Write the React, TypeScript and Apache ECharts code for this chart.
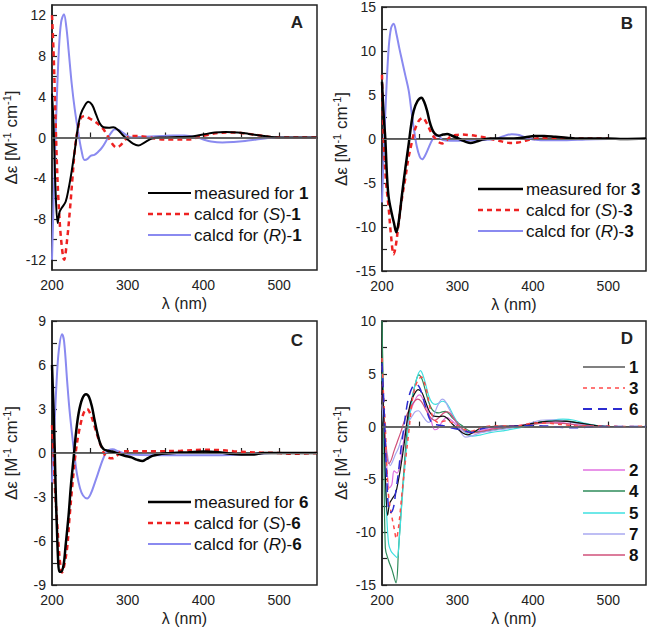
import React, { useEffect, useRef } from 'react';
import * as echarts from 'echarts';

const FONT = '"Liberation Sans", Arial, sans-serif';

// ---------- Panel A (compound 1) ----------
const A_M_X = [200, 202, 204.5, 207.5, 210, 213, 218, 222, 226, 230, 234, 238, 243, 248, 253, 258, 263, 268, 275, 281, 287, 294, 300, 307, 314, 322, 332, 345, 365, 385, 400, 415, 430, 445, 460, 475, 490, 510, 550];
const A_M_Y = [4.3, 1.5, -4.8, -8.4, -7.3, -6.9, -6.3, -5.0, -3.3, -1.3, 0.9, 2.3, 3.1, 3.5, 3.2, 2.3, 1.4, 1.0, 0.95, 1.0, 0.75, 0.2, -0.2, -0.6, -0.78, -0.5, -0.1, 0, 0.05, 0.1, 0.3, 0.48, 0.53, 0.5, 0.35, 0.2, 0.05, 0, 0];
const A_S_X = [200, 202, 204, 206, 208.5, 212, 216, 220, 224, 227, 230, 234, 238, 243, 250, 257, 263, 268, 273, 277, 281, 285, 290, 296, 302, 310, 320, 330, 340, 360, 380, 392, 405, 420, 435, 450, 465, 480, 495, 550];
const A_S_Y = [12, 8.5, 3.7, -1.5, -6.1, -10, -12, -10, -6.8, -4, -1.3, 0.8, 1.9, 2.1, 1.85, 1.55, 1.2, 0.8, 0.2, -0.3, -0.75, -0.98, -0.8, -0.3, 0.1, 0.15, 0.1, 0, -0.15, -0.2, -0.2, 0, 0.25, 0.45, 0.5, 0.45, 0.3, 0.15, 0, 0];
const A_R_X = [200, 203, 206, 209, 212, 215.8, 219, 222, 226, 230, 234.8, 239, 243, 247, 251, 256, 261, 266, 272.6, 278, 283, 288, 294, 300, 305, 315, 330, 345, 360, 375, 390, 400, 410, 425, 440, 455, 470, 485, 495, 550];
const A_R_Y = [-12, -4, 3, 8.5, 11.3, 12.1, 10.8, 8.5, 5.3, 2.8, 0.45, -1.3, -2.2, -2.1, -1.8, -1.7, -1.4, -1.0, -0.2, 0.45, 0.82, 0.75, 0.45, 0.15, 0, 0.05, 0.1, 0.15, 0.2, 0.2, 0.05, -0.2, -0.4, -0.5, -0.45, -0.35, -0.2, -0.05, 0, 0];

// ---------- Panel B (compound 3) ----------
const B_M_X = [200, 202, 204.4, 206.5, 208.8, 213, 216, 219, 222, 226.6, 231, 235.4, 239, 242, 247, 252.3, 256, 259.8, 263, 266.5, 270, 275, 281, 286.4, 292, 297.5, 305, 312, 317.4, 325, 333, 345, 360, 375, 390, 402.5, 415, 430, 445, 460, 480, 500, 520, 550];
const B_M_Y = [6.5, 3.0, 0, -4, -6.6, -8.5, -9.6, -10.6, -9.5, -6.25, -3.3, -0.57, 1.8, 3.2, 4.3, 4.7, 4.2, 3.2, 2.0, 1.1, 0.6, 0.38, 0.5, 0.57, 0.4, 0.2, -0.1, -0.35, -0.45, -0.3, -0.07, 0.05, 0.05, 0.05, 0.2, 0.35, 0.35, 0.25, 0.15, 0.05, 0.05, 0.05, 0, 0.05];
const B_S_X = [200, 202, 205, 208.8, 212, 215.4, 218, 222, 226, 231, 235, 240, 243, 246.5, 250, 254.5, 258, 262, 266, 271, 275, 279.8, 285, 290.8, 298, 306, 315, 325, 335, 345, 355, 365, 372, 380, 390, 400, 420, 440, 460, 480, 500];
const B_S_Y = [7.3, 0.6, -4.5, -7.8, -11, -13.1, -12.3, -9.6, -7.0, -4.4, -2.2, -0.2, 0.9, 1.7, 2.2, 2.4, 2.0, 1.3, 0.6, 0, -0.35, -0.5, -0.2, 0.26, 0.45, 0.5, 0.45, 0.35, 0.2, 0, -0.2, -0.4, -0.45, -0.4, -0.2, 0, 0.15, 0.1, 0.05, 0.05, 0.05];
const B_R_X = [200, 203, 206, 209, 212, 215.4, 219, 223, 226.6, 231, 235.4, 239, 242, 246, 250, 253.2, 257, 262, 266, 271, 276, 280, 290.8, 305, 320, 335, 350, 360, 372, 382, 392, 400, 420, 445, 470, 500];
const B_R_Y = [-7.2, 0, 6, 10.5, 12.6, 13.1, 12, 10.3, 8.9, 7.2, 5.5, 3.2, 1.3, -0.8, -2.0, -2.3, -1.9, -0.95, -0.2, 0.4, 0.3, -0.1, -0.2, -0.2, -0.15, -0.1, 0, 0.3, 0.55, 0.45, 0.1, -0.05, -0.15, -0.15, -0.05, 0];

// ---------- Panel C (compound 6) ----------
const C_M_X = [200, 202, 203.5, 205, 206.6, 208, 209.7, 212, 215.4, 218, 222, 225, 228.6, 232, 235.3, 240, 245, 249, 253, 256, 259.7, 264, 268.4, 274, 279.6, 288, 297, 305, 312, 319.4, 325, 332.6, 345, 360, 380, 400, 420, 435, 450, 465, 480, 500, 550];
const C_M_Y = [6.0, 3.0, 0.4, -2.8, -5.3, -7.2, -8.1, -8.1, -7.6, -6.3, -4.2, -2.2, -0.3, 1.5, 2.75, 3.7, 4.0, 3.8, 3.1, 2.3, 1.4, 0.6, 0.25, 0.15, 0.1, -0.05, -0.2, -0.3, -0.45, -0.55, -0.4, -0.2, -0.05, 0, 0.05, 0.1, 0.05, -0.05, -0.1, -0.1, 0, 0, 0];
const C_S_X = [200, 202, 204, 206.6, 209, 211, 213.3, 216, 220, 223, 226.5, 231, 235, 239.8, 243, 246.4, 250, 255.2, 258, 261.8, 266, 270.7, 275, 279.6, 285, 292.8, 310, 340, 370, 400, 420, 440, 460, 480, 500, 520, 550];
const C_S_Y = [1.9, 0, -2.5, -4.6, -6.5, -7.6, -8.15, -7.7, -6.45, -4.5, -2.4, -0.1, 1.3, 2.4, 2.85, 3.0, 2.75, 2.0, 1.5, 0.9, 0.3, -0.2, -0.33, -0.36, -0.2, 0.12, 0.12, 0.12, 0.15, 0.22, 0.2, 0.12, 0.05, 0.02, 0, -0.05, 0];
const C_R_X = [200, 203, 206, 209, 213.3, 216, 220, 223, 226.5, 230, 233, 237, 241, 246.4, 251, 257.4, 262, 266.3, 271, 275, 280, 288.3, 298, 310, 340, 380, 420, 450, 470, 490, 550];
const C_R_Y = [-2.0, 1.5, 4.8, 7.0, 8.1, 7.6, 4.9, 3.0, 1.27, -0.3, -1.45, -2.4, -2.9, -3.1, -2.8, -1.9, -1.2, -0.55, 0, 0.2, 0.25, 0.1, -0.05, -0.12, -0.15, -0.15, -0.15, -0.1, -0.05, 0, 0];

// ---------- Panel D (other compounds) ----------
const D2_X = [200, 203, 206, 210, 213, 216, 220, 224, 229, 234, 240, 246, 250, 255, 260, 265, 270, 274, 280, 286, 292, 298, 305, 312, 320, 335, 350, 370, 390, 410, 425, 440, 460, 480, 500, 550];
const D2_Y = [3.0, 0, -3.5, -5.8, -5.5, -4.2, -4.4, -3.5, -1.2, 0.6, 1.9, 2.8, 3.0, 2.5, 1.6, 0.6, -0.3, -0.2, 0.5, 0.85, 0.6, 0.2, -0.3, -0.6, -0.5, -0.3, -0.15, 0, 0.2, 0.4, 0.45, 0.35, 0.15, 0, -0.05, 0];
const D4_X = [200, 202, 204.4, 208.8, 213, 218.6, 222, 226.6, 230, 233.2, 236, 240, 244, 248.7, 253, 257.6, 262, 266.5, 271, 275.3, 280, 284, 289, 293, 300, 306, 313, 320, 330, 345, 360, 380, 400, 420, 435, 450, 465, 480, 500, 550];
const D4_Y = [10, 2, -11.5, -12.7, -13.5, -14.8, -11.5, -6.7, -3.2, -0.4, 1.2, 2.75, 4.0, 4.9, 4.5, 3.4, 2.3, 1.6, 1.35, 1.3, 1.4, 1.45, 1.2, 0.85, 0.4, 0.1, -0.3, -0.5, -0.5, -0.35, -0.2, 0, 0.3, 0.55, 0.6, 0.5, 0.3, 0.1, 0, 0];
const D5_X = [200, 203, 206, 208.8, 212, 215.4, 220, 223, 226.6, 231, 235.4, 240, 245, 251, 256, 262, 266, 271, 275, 279.8, 284, 288.6, 295, 301.9, 310, 319.7, 330, 345, 360, 380, 400, 420, 440, 455, 470, 485, 500, 550];
const D5_Y = [5.0, -2, -8, -11.1, -11.8, -12.1, -12.4, -10.5, -7.0, -3.2, 0.2, 2.5, 4.3, 5.3, 4.5, 2.9, 2.3, 2.1, 2.2, 2.4, 2.3, 1.9, 1.0, 0.2, -0.5, -0.9, -0.8, -0.55, -0.4, -0.15, 0.2, 0.5, 0.7, 0.6, 0.3, 0.1, 0, 0];
const D7_X = [200, 204, 208, 211, 214, 218, 222, 228, 234, 240, 244, 248.4, 253, 258, 262, 267, 272, 276, 279.8, 284, 288, 293, 300, 305, 310.8, 318, 330, 345, 360, 380, 395, 410, 425, 440, 455, 470, 490, 550];
const D7_Y = [2.1, -1.0, -3.0, -3.7, -3.3, -2.6, -2.0, -0.6, 0.3, 1.0, 1.4, 1.5, 1.1, 0.6, 0.4, 0.8, 1.7, 2.3, 2.6, 2.4, 1.8, 1.1, 0.1, -0.6, -1.0, -0.9, -0.6, -0.4, -0.25, 0, 0.3, 0.6, 0.65, 0.55, 0.35, 0.15, 0, 0];
const D8_X = [200, 203, 206, 209, 212, 216, 220, 225, 230, 236, 242, 247, 252, 258, 264, 270, 276, 282, 287, 292, 298, 305, 312, 320, 335, 350, 370, 390, 410, 425, 440, 460, 480, 500, 550];
const D8_Y = [4.0, 0.5, -2.5, -3.5, -3.2, -2.3, -1.5, -0.5, 0.6, 1.6, 2.3, 2.6, 2.4, 1.6, 0.9, 0.6, 0.9, 1.3, 1.4, 1.1, 0.5, -0.1, -0.5, -0.6, -0.4, -0.2, 0, 0.15, 0.3, 0.35, 0.3, 0.15, 0.05, 0, 0];

const X_LABELS = [200, 300, 400, 500];
const X_TICKS = [200, 250, 300, 350, 400, 450, 500];

const zip = (xs: number[], ys: number[]) => xs.map((x, i) => [x, ys[i]]);

const GRIDS = [
  { left: 52, top: 5, width: 265, height: 265 },
  { left: 382, top: 7, width: 264, height: 264 },
  { left: 52, top: 321, width: 265, height: 264 },
  { left: 382, top: 321, width: 264, height: 264 },
];

const Y_CFG = [
  { min: -13, max: 13, labels: [-12, -8, -4, 0, 4, 8, 12], ticks: [-12, -10, -8, -6, -4, -2, 0, 2, 4, 6, 8, 10, 12] },
  { min: -15, max: 15, labels: [-15, -10, -5, 0, 5, 10, 15], ticks: [-15, -12.5, -10, -7.5, -5, -2.5, 0, 2.5, 5, 7.5, 10, 12.5, 15] },
  { min: -9, max: 9, labels: [-9, -6, -3, 0, 3, 6, 9], ticks: [-9, -7.5, -6, -4.5, -3, -1.5, 0, 1.5, 3, 4.5, 6, 7.5, 9] },
  { min: -15, max: 10, labels: [-15, -10, -5, 0, 5, 10], ticks: [-15, -12.5, -10, -7.5, -5, -2.5, 0, 2.5, 5, 7.5, 10] },
];

const AX = '#222';

function line(name: string, g: number, xs: number[], ys: number[], color: string, width: number, dash: any, z = 3) {
  return {
    type: 'line', name, xAxisIndex: g, yAxisIndex: g, data: zip(xs, ys),
    symbol: 'none', showSymbol: false, smooth: 0.35, silent: true, z,
    lineStyle: { color, width, type: dash }, itemStyle: { color },
  };
}

function zero(g: number, width: number) {
  return {
    type: 'line', name: 'zero' + g, xAxisIndex: g, yAxisIndex: g, data: [], z: 1, silent: true,
    markLine: {
      silent: true, symbol: ['none', 'none'], label: { show: false }, animation: false,
      lineStyle: { color: '#6a6a6a', width, type: 'solid' }, data: [{ yAxis: 0 }],
    },
  };
}

const RED = '#ee2222';
const BLUE = '#8a8af0';
const LFS = 17;

function legendItem(x1: number, x2: number, y: number, color: string, width: number, dash: any, text: string, tx: number, fs: number) {
  return [
    { type: 'line', silent: true, shape: { x1, y1: y, x2, y2: y }, style: { stroke: color, lineWidth: width, lineDash: dash } },
    {
      type: 'text', silent: true, x: tx, y,
      style: {
        text, verticalAlign: 'middle', align: 'left', fill: '#111',
        rich: {
          n: { fontSize: fs, fontFamily: FONT, fill: '#111' },
          i: { fontSize: fs, fontFamily: FONT, fontStyle: 'italic', fill: '#111' },
          b: { fontSize: fs, fontFamily: FONT, fontWeight: 'bold', fill: '#111' },
        },
      },
    },
  ];
}

function threeLegend(x1: number, x2: number, tx: number, ys: number[], id: string, mw: number) {
  return [
    ...legendItem(x1, x2, ys[0], '#000', mw, null, `{n|measured for }{b|${id}}`, tx, LFS),
    ...legendItem(x1, x2, ys[1], RED, 2.5, [5, 4], `{n|calcd for (}{i|S}{n|)-}{b|${id}}`, tx, LFS),
    ...legendItem(x1, x2, ys[2], BLUE, 2, null, `{n|calcd for (}{i|R}{n|)-}{b|${id}}`, tx, LFS),
  ];
}

function letter(t: string, x: number, y: number) {
  return { type: 'text', silent: true, x, y, style: { text: t, align: 'right', verticalAlign: 'middle', fontSize: 17, fontWeight: 'bold', fontFamily: FONT, fill: '#222' } };
}

const D_LEG: [string, string, number, any, number][] = [
  ['1', '#808080', 2, null, 367],
  ['3', '#ff4a4a', 1.5, [4, 4], 388],
  ['6', '#2c2cd0', 1.8, [9, 6], 409],
  ['2', '#e070e0', 1.5, null, 470],
  ['4', '#2e8b5a', 1.5, null, 491],
  ['5', '#3ee0e0', 1.5, null, 513],
  ['7', '#a8a8f0', 1.5, null, 534],
  ['8', '#d0507a', 1.5, null, 555],
];

export default function App() {
  const ref = useRef<HTMLDivElement>(null);
  useEffect(() => {
    const chart = echarts.init(ref.current!, null, { renderer: 'svg' });
    const yName = '{a|Δε [M}{s|-1}{a| cm}{s|-1}{a|]}';
    const option: any = {
      animation: false,
      backgroundColor: '#fff',
      grid: GRIDS.map((g) => ({ ...g, show: true, borderColor: AX, borderWidth: 1.5, backgroundColor: 'transparent', containLabel: false })),
      xAxis: GRIDS.map((_, i) => ({
        type: 'value', gridIndex: i, min: 200, max: 550,
        axisLine: { show: true, lineStyle: { color: AX, width: 1.5 } },
        axisTick: { show: true, inside: true, length: 5, customValues: X_TICKS, lineStyle: { color: AX, width: 1.2 } },
        axisLabel: { customValues: X_LABELS, fontSize: 14, color: '#222', fontFamily: FONT, margin: 8 },
        splitLine: { show: false },
        name: 'λ (nm)', nameLocation: 'middle', nameGap: 25,
        nameTextStyle: { fontSize: 16, color: '#222', fontFamily: FONT },
      })),
      yAxis: Y_CFG.map((c, i) => ({
        type: 'value', gridIndex: i, min: c.min, max: c.max,
        axisLine: { show: true, onZero: false, lineStyle: { color: AX, width: 1.5 } },
        axisTick: { show: true, inside: true, length: 5, customValues: c.ticks, lineStyle: { color: AX, width: 1.2 } },
        axisLabel: { customValues: c.labels, fontSize: 14, color: '#222', fontFamily: FONT, margin: 6 },
        splitLine: { show: false },
        name: yName, nameLocation: 'middle', nameGap: 31,
        nameTextStyle: {
          rich: {
            a: { fontSize: 17, fontFamily: FONT, color: '#222', lineHeight: 20 },
            s: { fontSize: 11, fontFamily: FONT, color: '#222', verticalAlign: 'top', lineHeight: 20 },
          },
        },
      })),
      series: [
        zero(0, 1.5), zero(1, 1), zero(2, 1), zero(3, 1.5),
        line('measured for 1', 0, A_M_X, A_M_Y, '#000', 2, 'solid', 4),
        line('calcd for (S)-1', 0, A_S_X, A_S_Y, RED, 2.5, [5, 4], 3),
        line('calcd for (R)-1', 0, A_R_X, A_R_Y, BLUE, 2, 'solid', 2),
        line('measured for 3', 1, B_M_X, B_M_Y, '#000', 2.5, 'solid', 4),
        line('calcd for (S)-3', 1, B_S_X, B_S_Y, RED, 2.5, [5, 4], 3),
        line('calcd for (R)-3', 1, B_R_X, B_R_Y, BLUE, 2, 'solid', 2),
        line('measured for 6', 2, C_M_X, C_M_Y, '#000', 2.5, 'solid', 4),
        line('calcd for (S)-6', 2, C_S_X, C_S_Y, RED, 2.5, [5, 4], 3),
        line('calcd for (R)-6', 2, C_R_X, C_R_Y, BLUE, 2, 'solid', 2),
        line('2', 3, D2_X, D2_Y, '#e070e0', 1.2, 'solid', 2),
        line('4', 3, D4_X, D4_Y, '#2e8b5a', 1.2, 'solid', 2),
        line('5', 3, D5_X, D5_Y, '#3ee0e0', 1.2, 'solid', 2),
        line('7', 3, D7_X, D7_Y, '#a8a8f0', 1.2, 'solid', 2),
        line('8', 3, D8_X, D8_Y, '#d0507a', 1.2, 'solid', 2),
        line('1', 3, A_M_X, A_M_Y, '#111', 1.2, 'solid', 3),
        line('3', 3, B_M_X, B_M_Y, '#ff4a4a', 1.5, [4, 4], 3),
        line('6', 3, C_M_X, C_M_Y, '#2c2cd0', 1.5, [9, 6], 3),
      ],
      graphic: [
        letter('A', 303, 22), letter('B', 633, 23), letter('C', 303, 340), letter('D', 633, 338),
        ...threeLegend(148, 191, 194, [193, 214, 235], '1', 2),
        ...threeLegend(478, 523, 526, [189, 210, 231], '3', 2.5),
        ...threeLegend(148, 191, 194, [502, 523, 544], '6', 2.5),
        ...D_LEG.flatMap(([t, c, w, d, y]) => [
          { type: 'line', silent: true, shape: { x1: 583, y1: y, x2: 625, y2: y }, style: { stroke: c, lineWidth: w, lineDash: d } },
          { type: 'text', silent: true, x: 629, y, style: { text: t, align: 'left', verticalAlign: 'middle', fontSize: 17, fontWeight: 'bold', fontFamily: FONT, fill: '#111' } },
        ]),
      ],
    };
    chart.setOption(option);
    return () => chart.dispose();
  }, []);
  return <div ref={ref} style={{ position: 'fixed', left: 0, top: 0, width: 648, height: 628, background: '#fff' }} />;
}
